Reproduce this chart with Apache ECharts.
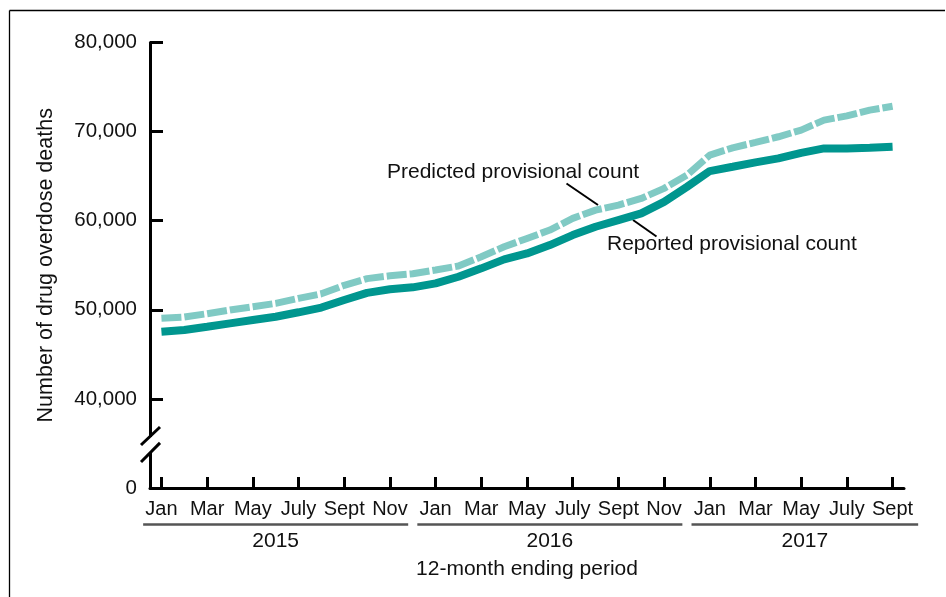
<!DOCTYPE html>
<html>
<head>
<meta charset="utf-8">
<script src="https://cdn.jsdelivr.net/npm/echarts@6/dist/echarts.min.js"></script>
<style>
  html, body { margin: 0; padding: 0; background: #fff; }
  #chart { width: 946px; height: 597px; }
</style>
</head>
<body>
<div id="chart"></div>
<script>
// 12-month ending periods, Jan 2015 .. Sept 2017
const months = [
  'Jan', 'Feb', 'Mar', 'Apr', 'May', 'June', 'July', 'Aug', 'Sept', 'Oct', 'Nov', 'Dec',
  'Jan', 'Feb', 'Mar', 'Apr', 'May', 'June', 'July', 'Aug', 'Sept', 'Oct', 'Nov', 'Dec',
  'Jan', 'Feb', 'Mar', 'Apr', 'May', 'June', 'July', 'Aug', 'Sept'
];
const years = ['2015', '2016', '2017'];
const yearFirst = [0, 12, 24];
const yearLast = [10, 22, 32];

const reported = [
  47540, 47730, 48100, 48480, 48850, 49220, 49720, 50250, 51100, 51900, 52300, 52520,
  52970, 53710, 54650, 55660, 56330, 57260, 58390, 59320, 60070, 60820, 62120, 63800,
  65570, 66050, 66540, 66990, 67620, 68110, 68110, 68180, 68290
];
const predicted = [
  49040, 49190, 49560, 49970, 50340, 50720, 51280, 51800, 52750, 53500, 53820, 54050,
  54460, 54910, 55950, 57070, 58010, 58950, 60260, 61190, 61750, 62500, 63630, 65120,
  67360, 68180, 68790, 69420, 70170, 71290, 71770, 72410, 72850
];

// y axis is broken: the bottom step (30,000) is shown as 0
const yMin = 30000;
const yMax = 80000;
const yStep = 10000;

const FONT = '"Liberation Sans", Arial, sans-serif';
const INK = '#111';

const chart = echarts.init(document.getElementById('chart'));

const option = {
  animation: false,
  grid: { left: 150, right: 42, top: 42.5, bottom: 109 },
  xAxis: {
    type: 'category',
    data: months,
    boundaryGap: true,
    name: '12-month ending period',
    nameLocation: 'middle',
    nameGap: 71,
    nameTextStyle: { fontSize: 21, color: INK, fontFamily: FONT },
    axisLine: { lineStyle: { color: '#000', width: 3 } },
    axisTick: {
      show: true, inside: true, length: 11, interval: 1, alignWithLabel: true,
      lineStyle: { color: '#000', width: 3 }
    },
    axisLabel: { interval: 1, fontSize: 20, color: INK, fontFamily: FONT, margin: 11 },
    splitLine: { show: false }
  },
  yAxis: {
    type: 'value',
    min: yMin,
    max: yMax,
    interval: yStep,
    name: 'Number of drug overdose deaths',
    nameLocation: 'middle',
    nameGap: 93,
    nameTextStyle: { fontSize: 21.5, color: INK, fontFamily: FONT },
    axisLine: { show: true, lineStyle: { color: '#000', width: 3 } },
    axisTick: { show: true, inside: true, length: 13, lineStyle: { color: '#000', width: 3 } },
    axisLabel: {
      fontSize: 20.5, color: INK, fontFamily: FONT, margin: 13,
      formatter: (v) => v === yMin ? '0' : v.toLocaleString('en-US')
    },
    splitLine: { show: false }
  },
  series: [
    {
      name: 'Predicted provisional count',
      type: 'line',
      data: predicted,
      symbol: 'none',
      z: 2,
      lineStyle: { color: '#80CAC4', width: 7, type: [20, 3], cap: 'butt' }
    },
    {
      name: 'Reported provisional count',
      type: 'line',
      data: reported,
      symbol: 'none',
      z: 3,
      lineStyle: { color: '#00968F', width: 8, cap: 'butt' }
    }
  ]
};

chart.setOption(option);

// decorations: frame, axis break, year groups, annotations
function drawExtras() {
  const xPix = (i) => {
    const a = chart.convertToPixel({ xAxisIndex: 0 }, 0);
    const b = chart.convertToPixel({ xAxisIndex: 0 }, 1);
    return a + (b - a) * i;
  };
  const y0 = chart.convertToPixel({ yAxisIndex: 0 }, yMin);
  const y1 = chart.convertToPixel({ yAxisIndex: 0 }, yMin + yStep);
  const yFrac = (f) => y0 + (y1 - y0) * f;
  const axisX = xPix(-0.5);

  const els = [];
  // outer frame
  els.push({ type: 'line', shape: { x1: 9.5, y1: 10.5, x2: 945, y2: 10.5 }, style: { stroke: '#000', lineWidth: 1.3 } });
  els.push({ type: 'line', shape: { x1: 9.5, y1: 10.5, x2: 9.5, y2: 597 }, style: { stroke: '#000', lineWidth: 1.3 } });

  // y axis break
  els.push({ type: 'rect', shape: { x: axisX - 4, y: yFrac(0.573), width: 8, height: yFrac(0.404) - yFrac(0.573) }, style: { fill: '#fff' }, z: 50 });
  els.push({ type: 'line', shape: { x1: axisX - 9, y1: yFrac(0.483), x2: axisX + 10, y2: yFrac(0.685) }, style: { stroke: '#000', lineWidth: 3 }, z: 51 });
  els.push({ type: 'line', shape: { x1: axisX - 9, y1: yFrac(0.292), x2: axisX + 10, y2: yFrac(0.506) }, style: { stroke: '#000', lineWidth: 3 }, z: 51 });

  // year groups under month labels
  const underY = 524.5;
  const padL = 0.8;
  const padR = [0.8, 0.8, 1.12];
  years.forEach((yr, k) => {
    const xa = xPix(yearFirst[k] - padL);
    const xb = xPix(yearLast[k] + padR[k]);
    els.push({ type: 'line', shape: { x1: xa, y1: underY, x2: xb, y2: underY }, style: { stroke: '#555', lineWidth: 2.5 } });
    els.push({
      type: 'text', x: (xa + xb) / 2, y: 541.5,
      style: { text: yr, fontSize: 21, fontFamily: FONT, fill: INK, align: 'center', verticalAlign: 'middle' }
    });
  });

  // annotations
  els.push({
    type: 'text', x: 387, y: 172,
    style: { text: 'Predicted provisional count', fontSize: 21, fontFamily: FONT, fill: INK, align: 'left', verticalAlign: 'middle' }
  });
  els.push({ type: 'line', shape: { x1: 566.5, y1: 183.5, x2: 598, y2: 205 }, style: { stroke: '#000', lineWidth: 2 } });
  els.push({
    type: 'text', x: 607, y: 244,
    style: { text: 'Reported provisional count', fontSize: 21, fontFamily: FONT, fill: INK, align: 'left', verticalAlign: 'middle' }
  });
  els.push({ type: 'line', shape: { x1: 633, y1: 220, x2: 656.5, y2: 236.5 }, style: { stroke: '#000', lineWidth: 2 } });

  chart.setOption({ graphic: { elements: els } });
}

drawExtras();
</script>
</body>
</html>
